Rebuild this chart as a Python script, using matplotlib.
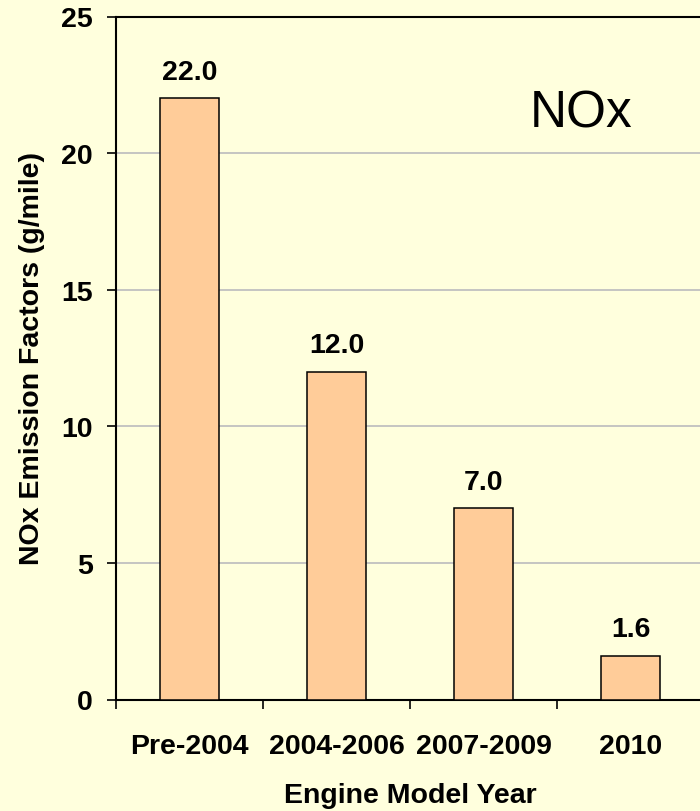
import matplotlib
matplotlib.use("Agg")
import matplotlib.pyplot as plt

categories = ["Pre-2004", "2004-2006", "2007-2009", "2010"]
nox_values = [22.0, 12.0, 7.0, 1.6]
y_ticks = [0, 5, 10, 15, 20, 25]

plt.rcParams['font.family'] = ['Liberation Sans', 'DejaVu Sans']
fs = 20.5

bg = '#FFFFDD'
fig = plt.figure(figsize=(7.0, 8.12), dpi=100, facecolor=bg)
# the original chart is cut on the right, so the axes run past the figure edge
ax = fig.add_axes([116 / 700, 1 - 700.5 / 812, 588 / 700, 683 / 812])
ax.set_facecolor(bg)

pos = list(range(len(categories)))
ax.bar(pos, nox_values, width=0.4, color='#FFCC99', edgecolor='black',
       linewidth=1.1, zorder=3)
for x, v in zip(pos, nox_values):
    ax.annotate(f"{v:.1f}", xy=(x, v), xytext=(0, 14), textcoords='offset points',
                ha='center', va='baseline', fontsize=fs, fontweight='bold')

ax.set_xlim(-0.5, len(categories) - 0.5)
ax.set_ylim(0, 25)
ax.set_yticks(y_ticks)
ax.set_yticklabels([str(t) for t in y_ticks], fontsize=fs, fontweight='bold')
ax.yaxis.grid(True, color='#C0C0C0', linewidth=1.3, zorder=0)

# tick marks sit between the categories, labels sit under the bars
ax.set_xticks([p - 0.5 for p in pos])
ax.set_xticklabels([])
ax.set_xticks(pos, minor=True)
ax.set_xticklabels(categories, minor=True, fontsize=fs, fontweight='bold')
ax.tick_params(axis='x', which='minor', length=0, pad=24)
ax.tick_params(axis='both', which='major', direction='out', length=6.5, width=1.2,
               color='black')
ax.tick_params(axis='y', pad=10)

for side in ['left', 'bottom', 'top', 'right']:
    ax.spines[side].set_linewidth(1.5)
    ax.spines[side].set_color('black')

ax.set_ylabel("NOx Emission Factors (g/mile)", fontsize=fs, fontweight='bold',
              labelpad=12)
fig.text(410 / 700, 1 - 803 / 812, "Engine Model Year", ha='center', va='baseline',
         fontsize=fs, fontweight='bold')

fig.text(581 / 700, 1 - 114 / 812, "NOx", ha='center', va='center', fontsize=37)

fig.savefig("out.png", dpi=100, facecolor=bg)
